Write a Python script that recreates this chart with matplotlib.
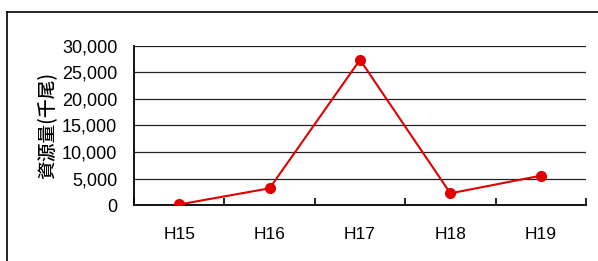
import numpy as np
import matplotlib.pyplot as plt
from matplotlib.lines import Line2D

years = ['H15', 'H16', 'H17', 'H18', 'H19']
biomass = [100, 3150, 27400, 2200, 5530]  # 千尾
yticks = [0, 5000, 10000, 15000, 20000, 25000, 30000]

W, H = 598, 261
fig = plt.figure(figsize=(W / 100, H / 100), dpi=100)
fig.patch.set_facecolor('white')

# axes placed in pixels
left, right, top, bottom = 134, 586, 46, 205
ax = fig.add_axes([left / W, 1 - bottom / H, (right - left) / W, (bottom - top) / H])

x = np.arange(len(years))
ax.plot(x, biomass, color='#e00000', lw=1.5, marker='o', markersize=7, zorder=3)

ax.set_xlim(-0.5, len(years) - 0.5)
ax.set_ylim(0, 30000)
ax.set_yticks(yticks)
ax.set_yticklabels([f'{v:,}' for v in yticks], family='Liberation Sans', fontsize=13)
ax.set_xticks(x)
ax.set_xticklabels(years, family='Liberation Sans', fontsize=12.5)
ax.set_xticks(np.arange(-0.5, len(years)), minor=True)
ax.tick_params(axis='x', which='major', length=0, pad=16)
ax.tick_params(axis='x', which='minor', direction='in', length=5, width=1.2, color='black')
ax.tick_params(axis='y', length=0, pad=12)

for v in yticks[1:]:
    ax.axhline(v, color='#222222', lw=0.9, zorder=1)

for s in ['top', 'right']:
    ax.spines[s].set_visible(False)
ax.spines['left'].set_linewidth(1.3)
ax.spines['bottom'].set_linewidth(1.3)

ax.set_ylabel('資源量(千尾)', family=['Noto Sans CJK JP', 'DejaVu Sans'], fontsize=13.5,
              fontweight='medium', labelpad=4)

# outer frame (cut off at right and bottom)
fig.add_artist(Line2D([7 / W, 1.0], [1 - 12 / H, 1 - 12 / H], color='black', lw=1.2))
fig.add_artist(Line2D([7 / W, 7 / W], [0, 1 - 12 / H], color='black', lw=1.2))

fig.savefig('out.png', dpi=100, facecolor='white')
